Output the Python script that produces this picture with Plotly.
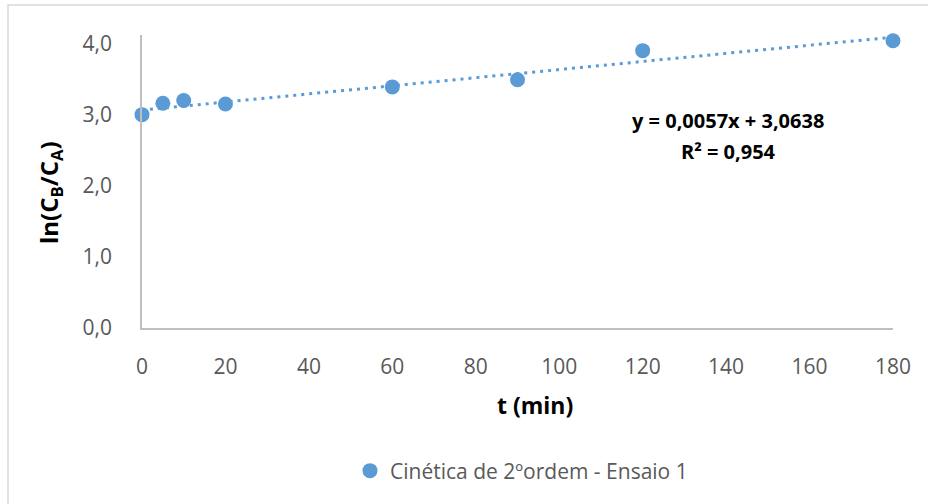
import plotly.graph_objects as go

# Reaction time (min) and ln(CB/CA) for run 1
t_min = [0, 5, 10, 20, 60, 90, 120, 180]
ln_ratio = [3.00, 3.16, 3.20, 3.15, 3.39, 3.49, 3.90, 4.04]

# Linear trendline coefficients
slope = 0.0057
intercept = 3.0638
r_squared = 0.954
trend_x = [0, 180]
trend_y = [intercept + slope * x for x in trend_x]

x_ticks = list(range(0, 181, 20))
y_ticks = [0, 1, 2, 3, 4]

blue = "#5B9BD5"
grey_text = "#595959"
axis_grey = "#BFBFBF"
W, H = 928, 504
L, R, T, B = 142, 35, 35, 176
pw, ph = W - L - R, H - T - B


def px_x(p):
    return (p - L) / pw


def px_y(p):
    return (H - B - p) / ph


fig = go.Figure()

fig.add_trace(go.Scatter(
    x=trend_x, y=trend_y, mode="lines",
    line=dict(color=blue, width=3, dash="3px,5px"),
    showlegend=False, hoverinfo="skip", cliponaxis=False,
))

fig.add_trace(go.Scatter(
    x=t_min, y=ln_ratio, mode="markers",
    marker=dict(color=blue, size=15, line=dict(width=0)),
    name="Cinética de 2ºordem - Ensaio 1", cliponaxis=False,
))

fig.update_layout(
    width=W, height=H,
    margin=dict(l=L, r=R, t=T, b=B),
    paper_bgcolor="white", plot_bgcolor="white",
    separators=", ",
    font=dict(family="Open Sans", color=grey_text),
    showlegend=True,
    legend=dict(
        orientation="h", x=px_x(350), xanchor="left",
        y=px_y(471), yanchor="middle",
        font=dict(size=21, color=grey_text),
        itemwidth=30,
    ),
    xaxis=dict(
        range=[0, 180], tickvals=x_ticks,
        showgrid=False, zeroline=False,
        showline=True, linecolor=axis_grey, linewidth=1.5,
        ticks="", ticklabelstandoff=19,
        tickfont=dict(size=21, color=grey_text),
    ),
    yaxis=dict(
        range=[0, 4.12], tickvals=y_ticks, tickformat=".1f",
        showgrid=False, zeroline=False,
        showline=True, linecolor=axis_grey, linewidth=1.5,
        ticks="", ticklabelstandoff=24,
        tickfont=dict(size=21, color=grey_text),
    ),
    annotations=[
        dict(text="<b>t (min)</b>", xref="paper", yref="paper",
             x=px_x(535), y=px_y(405), showarrow=False,
             xanchor="center", yanchor="middle",
             font=dict(size=23, color="black")),
        dict(text="<b>ln(C<sub>B</sub>/C<sub>A</sub>)</b>", xref="paper", yref="paper",
             x=px_x(50), y=px_y(193), showarrow=False, textangle=-90,
             xanchor="center", yanchor="middle",
             font=dict(size=24, color="black")),
        dict(text="<b>y = 0,0057x + 3,0638</b>", xref="paper", yref="paper",
             x=px_x(728), y=px_y(120), showarrow=False,
             xanchor="center", yanchor="middle",
             font=dict(size=20, color="black")),
        dict(text="<b>R² = 0,954</b>", xref="paper", yref="paper",
             x=px_x(728), y=px_y(151), showarrow=False,
             xanchor="center", yanchor="middle",
             font=dict(size=20, color="black")),
    ],
    shapes=[
        dict(type="rect", xref="paper", yref="paper",
             x0=px_x(8), x1=px_x(940), y0=px_y(520), y1=px_y(5),
             line=dict(color="#D9D9D9", width=1.5), layer="below"),
    ],
)

fig.write_html("out.html")
